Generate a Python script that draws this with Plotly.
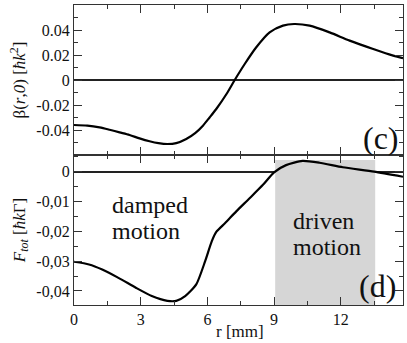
import plotly.graph_objects as go

# ---- data ----
r_beta = [0, 0.6, 1.15, 1.6, 2.05, 2.5, 2.95, 3.4, 3.8, 4.2, 4.6, 5.05, 5.45, 5.8, 6.1, 6.4,
          6.86, 7.23, 7.68, 8.2, 8.8, 9.4, 9.9, 10.6, 11.5, 12.4, 13.46, 14.36, 14.8]
beta = [-0.036, -0.0365, -0.0379, -0.0398, -0.0419, -0.0440, -0.0467, -0.0490, -0.0505, -0.0512,
        -0.0505, -0.0472, -0.0425, -0.0365, -0.0300, -0.0232, -0.0112, 0.0, 0.0128, 0.0262,
        0.0381, 0.0435, 0.0448, 0.0435, 0.0381, 0.0315, 0.0248, 0.0195, 0.0174]

r_f = [0, 0.675, 1.27, 2.0, 2.78, 3.5, 4.2, 4.6, 5.0, 5.5, 5.9, 6.2, 6.4, 6.8, 7.3, 7.9, 8.5,
       9.0, 9.54, 10.28, 11.04, 12.09, 13.5, 14.8]
f_tot = [-0.0302, -0.0311, -0.0328, -0.0356, -0.0389, -0.0417, -0.0433, -0.0433, -0.0417,
         -0.0378, -0.0300, -0.0233, -0.0202, -0.0172, -0.0133, -0.0089, -0.0044, -0.0002,
         0.0022, 0.0036, 0.0030, 0.0015, 0.0, -0.0017]

driven_region = [9.05, 13.55]
driven_top = 0.0039

x_ticks = [0, 3, 6, 9, 12]
beta_ticks = [-0.04, -0.02, 0, 0.02, 0.04]
beta_ticktext = ["-0.04", "-0.02", "0", "0.02", "0.04"]
f_ticks = [-0.04, -0.03, -0.02, -0.01, 0]
f_ticktext = ["-0,04", "-0,03", "-0,02", "-0,01", "0"]

FONT = "Liberation Serif"
AX = "#333333"

fig = go.Figure()
fig.add_trace(go.Scatter(x=r_beta, y=beta, mode="lines", xaxis="x", yaxis="y",
                         line=dict(color="black", width=2.2, shape="spline", smoothing=0.8),
                         showlegend=False, hoverinfo="skip"))
fig.add_trace(go.Scatter(x=r_f, y=f_tot, mode="lines", xaxis="x2", yaxis="y2",
                         line=dict(color="black", width=2.2, shape="spline", smoothing=0.6),
                         showlegend=False, hoverinfo="skip"))

fig.add_shape(type="rect", xref="x2", yref="y2", x0=driven_region[0], x1=driven_region[1],
              y0=-0.0447, y1=driven_top, fillcolor="#d6d6d6", line=dict(width=0),
              layer="between")

common_x = dict(range=[0, 14.8], showgrid=False, showline=True, linecolor=AX, linewidth=1.2,
                mirror="allticks", ticks="inside", ticklen=8, tickcolor=AX, tickwidth=1.2,
                tickvals=x_ticks, zeroline=False,
                minor=dict(ticks="inside", dtick=1.5, tick0=0, ticklen=4, tickcolor=AX,
                           tickwidth=1.2, showgrid=False),
                tickfont=dict(family=FONT, size=16, color="#111"))
common_y = dict(showgrid=False, showline=True, linecolor=AX, linewidth=1.2, mirror="allticks",
                ticks="inside", ticklen=8, tickcolor=AX, tickwidth=1.2,
                zeroline=True, zerolinecolor="#222", zerolinewidth=1.6,
                tickfont=dict(family=FONT, size=16, color="#111"))

fig.update_layout(
    width=407, height=343,
    margin=dict(l=74, r=4, t=5, b=38),
    paper_bgcolor="white", plot_bgcolor="white",
    font=dict(family=FONT, color="#111"),
    xaxis=dict(common_x, domain=[0, 1], anchor="y", showticklabels=False),
    yaxis=dict(common_y, domain=[0.5, 1], anchor="x", range=[-0.06, 0.06],
               tickvals=beta_ticks, ticktext=beta_ticktext,
               minor=dict(ticks="inside", dtick=0.01, tick0=0, ticklen=4, tickcolor=AX,
                          tickwidth=1.2, showgrid=False),
               title=dict(text="β(<i>r</i>,<i>0</i>) [<i>ħk</i><sup>2</sup>]",
                          font=dict(family=FONT, size=17), standoff=6)),
    xaxis2=dict(common_x, domain=[0, 1], anchor="y2"),
    yaxis2=dict(common_y, domain=[0, 0.5], anchor="x2", range=[-0.0447, 0.0056],
                tickvals=f_ticks, ticktext=f_ticktext,
                minor=dict(ticks="inside", dtick=0.005, tick0=0, ticklen=4, tickcolor=AX,
                           tickwidth=1.2, showgrid=False),
                title=dict(text="<i>F<sub>tot</sub></i> [<i>ħk</i>Γ]",
                           font=dict(family=FONT, size=17), standoff=6)),
)

def note(text, x, y, size, xanchor="left"):
    fig.add_annotation(text=text, xref="paper", yref="paper", x=x, y=y,
                       xanchor=xanchor, yanchor="middle", showarrow=False,
                       font=dict(family=FONT, size=size, color="#111"))

note("r [mm]", 0.505, -0.088, 17, "center")
note("(c)", 0.995, 0.555, 32, "right")
note("(d)", 0.985, 0.065, 32, "right")
note("damped", 0.11, 0.333, 24)
note("motion", 0.11, 0.247, 24)
note("driven", 0.66, 0.28, 24)
note("motion", 0.66, 0.193, 24)

fig.write_html("out.html", config={"displayModeBar": False},
               post_script="document.body.style.margin='0';document.body.style.overflow='hidden';")
